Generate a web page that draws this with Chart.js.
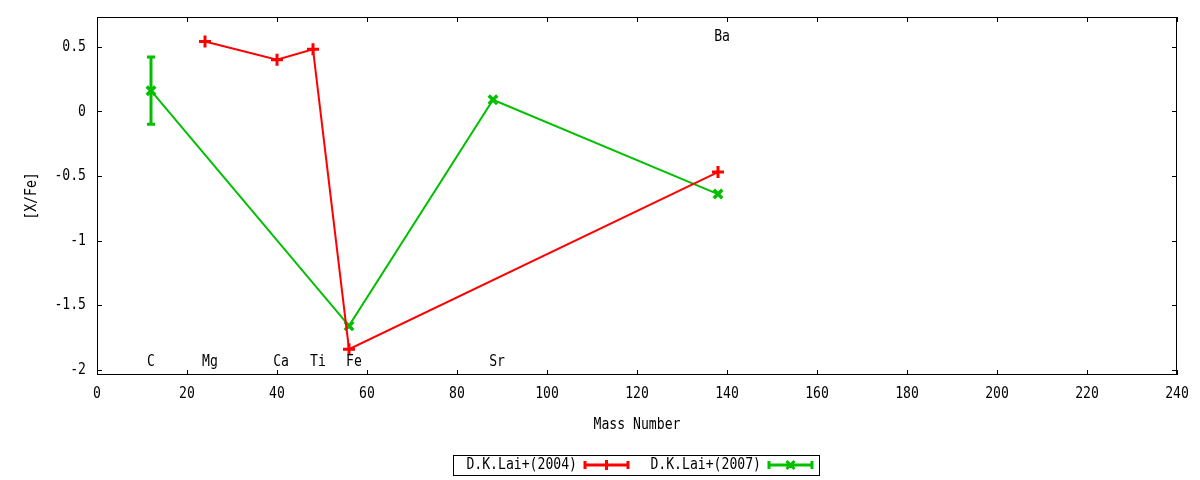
<!DOCTYPE html>
<html>
<head>
<meta charset="utf-8">
<script src="https://cdn.jsdelivr.net/npm/chart.js@4/dist/chart.umd.min.js"></script>
<style>
  html, body { margin: 0; padding: 0; background: #fff; }
  #box { width: 1200px; height: 480px; }
</style>
</head>
<body>
<div id="box"><canvas id="grafico"></canvas></div>
<script>
// dados
const laiX2004 = [24, 40, 48, 56, 138];
const laiY2004 = [0.54, 0.40, 0.48, -1.84, -0.47];

const laiX2007 = [12, 56, 88, 138];
const laiY2007 = [0.16, -1.66, 0.09, -0.64];
const laiErr2007 = [0.26, 0, 0, 0];

const elementos = ['C', 'Mg', 'Ca', 'Ti', 'Fe', 'Sr', 'Ba'];
const elemX = [12, 25.1, 40.9, 49.1, 57.1, 88.9, 138.9];
const elemY = [-1.94, -1.94, -1.94, -1.94, -1.94, -1.94, 0.58];

const xTicks = [0, 20, 40, 60, 80, 100, 120, 140, 160, 180, 200, 220, 240];
const yTicks = [0.5, 0, -0.5, -1, -1.5, -2];
const yLabels = ['0.5', '0', '-0.5', '-1', '-1.5', '-2'];

const FONTE = '16px "DejaVu Sans Mono", monospace';
const ESTREITO = 0.82; // fonte do gnuplot é mais estreita
const VERMELHO = '#ff0000';
const VERDE = '#00c000';

function pontos(xs, ys) {
  return xs.map((x, i) => ({ x: x, y: ys[i] }));
}

// escreve texto estreito (alinhamento: left, center, right)
function texto(ctx, s, x, y, alinha) {
  ctx.save();
  ctx.translate(x, y);
  ctx.scale(ESTREITO, 1);
  ctx.font = FONTE;
  ctx.fillStyle = '#000';
  ctx.textAlign = alinha || 'center';
  ctx.textBaseline = 'middle';
  ctx.fillText(s, 0, 0);
  ctx.restore();
}

// moldura, marcas dos eixos, barras de erro, rótulos e legenda
const estiloGnuplot = {
  id: 'estiloGnuplot',
  afterDatasetsDraw(chart) {
    const ctx = chart.ctx;
    const a = chart.chartArea;
    const sx = chart.scales.x;
    const sy = chart.scales.y;
    ctx.save();

    // barras de erro
    chart.data.datasets.forEach(ds => {
      if (!ds.erros) return;
      ctx.strokeStyle = ds.borderColor;
      ctx.lineWidth = 3;
      ds.data.forEach((p, i) => {
        const e = ds.erros[i];
        if (!e) return;
        const px = sx.getPixelForValue(p.x);
        const y1 = sy.getPixelForValue(p.y + e);
        const y2 = sy.getPixelForValue(p.y - e);
        ctx.beginPath();
        ctx.moveTo(px, y1); ctx.lineTo(px, y2);
        ctx.moveTo(px - 4, y1); ctx.lineTo(px + 4, y1);
        ctx.moveTo(px - 4, y2); ctx.lineTo(px + 4, y2);
        ctx.stroke();
      });
    });

    // moldura
    ctx.strokeStyle = '#000';
    ctx.lineWidth = 1;
    ctx.strokeRect(a.left + 0.5, a.top + 0.5, a.right - a.left - 1, a.bottom - a.top - 1);

    // marcas para dentro (espelhadas) e rótulos dos eixos
    ctx.beginPath();
    xTicks.forEach(v => {
      const px = Math.round(sx.getPixelForValue(v)) + 0.5;
      ctx.moveTo(px, a.bottom); ctx.lineTo(px, a.bottom - 5);
      ctx.moveTo(px, a.top); ctx.lineTo(px, a.top + 5);
    });
    yTicks.forEach(v => {
      const py = Math.round(sy.getPixelForValue(v)) + 0.5;
      ctx.moveTo(a.left, py); ctx.lineTo(a.left + 5, py);
      ctx.moveTo(a.right, py); ctx.lineTo(a.right - 5, py);
    });
    ctx.stroke();

    xTicks.forEach(v => texto(ctx, String(v), sx.getPixelForValue(v), a.bottom + 19, 'center'));
    yTicks.forEach((v, i) => texto(ctx, yLabels[i], a.left - 11, sy.getPixelForValue(v), 'right'));

    // nomes dos elementos
    elementos.forEach((nome, i) => {
      texto(ctx, nome, sx.getPixelForValue(elemX[i]), sy.getPixelForValue(elemY[i]), 'center');
    });

    // títulos dos eixos
    texto(ctx, 'Mass Number', (a.left + a.right) / 2, 425, 'center');
    ctx.save();
    ctx.translate(32, (a.top + a.bottom) / 2);
    ctx.rotate(-Math.PI / 2);
    texto(ctx, '[X/Fe]', 0, 0, 'center');
    ctx.restore();

    // legenda
    ctx.strokeStyle = '#000';
    ctx.lineWidth = 1;
    ctx.strokeRect(453.5, 455.5, 366, 20);
    const itens = [
      { fim: 577, ini: 585, ds: chart.data.datasets[0] },
      { fim: 761, ini: 769, ds: chart.data.datasets[1] }
    ];
    const ly = 465;
    itens.forEach(it => {
      texto(ctx, it.ds.label, it.fim, ly, 'right');
      ctx.strokeStyle = it.ds.borderColor;
      ctx.lineWidth = 3;
      const x1 = it.ini, x2 = it.ini + 43;
      ctx.beginPath();
      ctx.moveTo(x1, ly); ctx.lineTo(x2, ly);
      ctx.moveTo(x1, ly - 4); ctx.lineTo(x1, ly + 4);
      ctx.moveTo(x2, ly - 4); ctx.lineTo(x2, ly + 4);
      const cx = (x1 + x2) / 2;
      if (it.ds.pointStyle === 'cross') {
        ctx.moveTo(cx, ly - 5); ctx.lineTo(cx, ly + 5);
      } else {
        ctx.moveTo(cx - 4, ly - 4); ctx.lineTo(cx + 4, ly + 4);
        ctx.moveTo(cx - 4, ly + 4); ctx.lineTo(cx + 4, ly - 4);
      }
      ctx.stroke();
    });

    ctx.restore();
  }
};

new Chart(document.getElementById('grafico'), {
  type: 'scatter',
  data: {
    datasets: [
      {
        label: 'D.K.Lai+(2004)',
        data: pontos(laiX2004, laiY2004),
        showLine: true,
        borderColor: VERMELHO,
        backgroundColor: VERMELHO,
        borderWidth: 2,
        pointStyle: 'cross',
        pointRadius: 6,
        pointBorderWidth: 3
      },
      {
        label: 'D.K.Lai+(2007)',
        data: pontos(laiX2007, laiY2007),
        erros: laiErr2007,
        showLine: true,
        borderColor: VERDE,
        backgroundColor: VERDE,
        borderWidth: 2,
        pointStyle: 'crossRot',
        pointRadius: 6,
        pointBorderWidth: 3.5
      }
    ]
  },
  options: {
    responsive: true,
    maintainAspectRatio: false,
    animation: false,
    layout: { padding: { top: 17, right: 23, bottom: 0, left: 0 } },
    plugins: {
      legend: { display: false },
      tooltip: { enabled: false }
    },
    scales: {
      x: {
        type: 'linear',
        min: 0,
        max: 240,
        grid: { display: false, drawTicks: false },
        border: { display: false },
        ticks: { display: false },
        afterFit: s => { s.height = 105; }
      },
      y: {
        type: 'linear',
        min: -2.04,
        max: 0.73,
        grid: { display: false, drawTicks: false },
        border: { display: false },
        ticks: { display: false },
        afterFit: s => { s.width = 97; }
      }
    }
  },
  plugins: [estiloGnuplot]
});
</script>
</body>
</html>
